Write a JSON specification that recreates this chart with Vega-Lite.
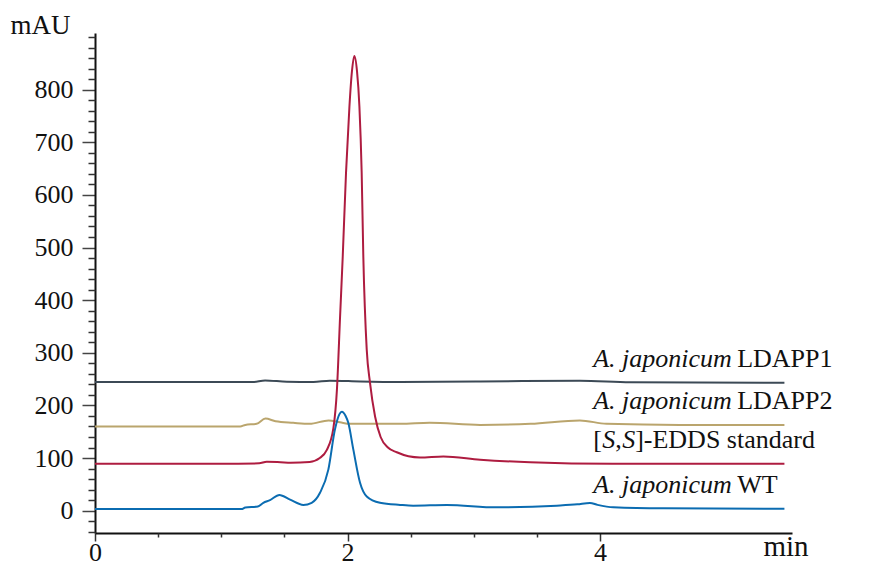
{
  "$schema": "https://vega.github.io/schema/vega-lite/v6.json",
  "width": 697,
  "height": 500,
  "autosize": {"type": "none"},
  "padding": {"left": 95, "top": 33, "right": 79, "bottom": 30},
  "background": "white",
  "config": {"view": {"stroke": null}, "font": "Liberation Serif"},
  "datasets": {
    "chrom": [
      {"series": "LDAPP1", "t": 0, "v": 244.5},
      {"series": "LDAPP1", "t": 0.99, "v": 244.5},
      {"series": "LDAPP1", "t": 1.25, "v": 244.5},
      {"series": "LDAPP1", "t": 1.347, "v": 247.5},
      {"series": "LDAPP1", "t": 1.52, "v": 245},
      {"series": "LDAPP1", "t": 1.73, "v": 244.5},
      {"series": "LDAPP1", "t": 1.86, "v": 247},
      {"series": "LDAPP1", "t": 2.1, "v": 245.5},
      {"series": "LDAPP1", "t": 2.42, "v": 244.5},
      {"series": "LDAPP1", "t": 3.05, "v": 245.5},
      {"series": "LDAPP1", "t": 3.84, "v": 247},
      {"series": "LDAPP1", "t": 4.24, "v": 244},
      {"series": "LDAPP1", "t": 5.46, "v": 243},
      {"series": "LDAPP2", "t": 0, "v": 160},
      {"series": "LDAPP2", "t": 1.15, "v": 160},
      {"series": "LDAPP2", "t": 1.19, "v": 163},
      {"series": "LDAPP2", "t": 1.28, "v": 165},
      {"series": "LDAPP2", "t": 1.35, "v": 175},
      {"series": "LDAPP2", "t": 1.43, "v": 170},
      {"series": "LDAPP2", "t": 1.57, "v": 167},
      {"series": "LDAPP2", "t": 1.7, "v": 165},
      {"series": "LDAPP2", "t": 1.85, "v": 171.5},
      {"series": "LDAPP2", "t": 1.94, "v": 168},
      {"series": "LDAPP2", "t": 2.02, "v": 165},
      {"series": "LDAPP2", "t": 2.42, "v": 165},
      {"series": "LDAPP2", "t": 2.65, "v": 167},
      {"series": "LDAPP2", "t": 3.05, "v": 163},
      {"series": "LDAPP2", "t": 3.45, "v": 165},
      {"series": "LDAPP2", "t": 3.84, "v": 171.5},
      {"series": "LDAPP2", "t": 4.05, "v": 165},
      {"series": "LDAPP2", "t": 4.63, "v": 163},
      {"series": "LDAPP2", "t": 5.46, "v": 163},
      {"series": "EDDS", "t": 0, "v": 89},
      {"series": "EDDS", "t": 0.99, "v": 89},
      {"series": "EDDS", "t": 1.3, "v": 90},
      {"series": "EDDS", "t": 1.36, "v": 93},
      {"series": "EDDS", "t": 1.47, "v": 92},
      {"series": "EDDS", "t": 1.55, "v": 91},
      {"series": "EDDS", "t": 1.7, "v": 92.5},
      {"series": "EDDS", "t": 1.78, "v": 100},
      {"series": "EDDS", "t": 1.835, "v": 115},
      {"series": "EDDS", "t": 1.888, "v": 157},
      {"series": "EDDS", "t": 1.916, "v": 230},
      {"series": "EDDS", "t": 1.941, "v": 369},
      {"series": "EDDS", "t": 1.962, "v": 483},
      {"series": "EDDS", "t": 1.988, "v": 642},
      {"series": "EDDS", "t": 2.015, "v": 768},
      {"series": "EDDS", "t": 2.035, "v": 835},
      {"series": "EDDS", "t": 2.054, "v": 864},
      {"series": "EDDS", "t": 2.075, "v": 835},
      {"series": "EDDS", "t": 2.094, "v": 768},
      {"series": "EDDS", "t": 2.112, "v": 642},
      {"series": "EDDS", "t": 2.125, "v": 483},
      {"series": "EDDS", "t": 2.152, "v": 306},
      {"series": "EDDS", "t": 2.178, "v": 243},
      {"series": "EDDS", "t": 2.218, "v": 179},
      {"series": "EDDS", "t": 2.262, "v": 140},
      {"series": "EDDS", "t": 2.32, "v": 120},
      {"series": "EDDS", "t": 2.39, "v": 111},
      {"series": "EDDS", "t": 2.574, "v": 101},
      {"series": "EDDS", "t": 2.759, "v": 103},
      {"series": "EDDS", "t": 3.05, "v": 97},
      {"series": "EDDS", "t": 3.446, "v": 92},
      {"series": "EDDS", "t": 4.1, "v": 89},
      {"series": "EDDS", "t": 5.46, "v": 89},
      {"series": "WT", "t": 0, "v": 3},
      {"series": "WT", "t": 1.16, "v": 3},
      {"series": "WT", "t": 1.19, "v": 6},
      {"series": "WT", "t": 1.29, "v": 8},
      {"series": "WT", "t": 1.333, "v": 15},
      {"series": "WT", "t": 1.386, "v": 20},
      {"series": "WT", "t": 1.46, "v": 30},
      {"series": "WT", "t": 1.545, "v": 21},
      {"series": "WT", "t": 1.65, "v": 11},
      {"series": "WT", "t": 1.716, "v": 15},
      {"series": "WT", "t": 1.782, "v": 34},
      {"series": "WT", "t": 1.848, "v": 78},
      {"series": "WT", "t": 1.9, "v": 154},
      {"series": "WT", "t": 1.935, "v": 183},
      {"series": "WT", "t": 1.955, "v": 188},
      {"series": "WT", "t": 1.985, "v": 180},
      {"series": "WT", "t": 2.006, "v": 167},
      {"series": "WT", "t": 2.046, "v": 116},
      {"series": "WT", "t": 2.099, "v": 53},
      {"series": "WT", "t": 2.152, "v": 27},
      {"series": "WT", "t": 2.257, "v": 15},
      {"series": "WT", "t": 2.416, "v": 11},
      {"series": "WT", "t": 2.52, "v": 9.5},
      {"series": "WT", "t": 2.786, "v": 10.8},
      {"series": "WT", "t": 3.18, "v": 6.3},
      {"series": "WT", "t": 3.657, "v": 9.5},
      {"series": "WT", "t": 3.82, "v": 12},
      {"series": "WT", "t": 3.92, "v": 14.6},
      {"series": "WT", "t": 3.98, "v": 11},
      {"series": "WT", "t": 4.105, "v": 6.3},
      {"series": "WT", "t": 4.5, "v": 4.4},
      {"series": "WT", "t": 5.46, "v": 3.8}
    ],
    "labels": [
      {"series": "LDAPP1", "level": 243, "species": "A. japonicum", "strain": "LDAPP1"},
      {"series": "LDAPP2", "level": 163, "species": "A. japonicum", "strain": "LDAPP2"},
      {"series": "EDDS", "level": 89, "species": "", "strain": "]-EDDS standard"},
      {"series": "WT", "level": 4, "species": "A. japonicum", "strain": "WT"}
    ]
  },
  "resolve": {"axis": {"x": "independent", "y": "independent"}},
  "layer": [
    {
      "data": {"name": "chrom"},
      "mark": {"type": "line", "strokeWidth": 2, "interpolate": "monotone"},
      "encoding": {
        "x": {
          "field": "t", "type": "quantitative",
          "scale": {"domain": [0, 5.52], "nice": false, "zero": false},
          "axis": {
            "orient": "bottom", "values": [0, 2, 4], "tickSize": 8, "tickWidth": 1.5,
            "tickColor": "#333", "domainColor": "#111", "domainWidth": 2,
            "labelFont": "Liberation Serif", "labelFontSize": 26, "labelColor": "#111",
            "labelPadding": -2, "labelFlush": false, "grid": false,
            "title": "min", "titleFont": "Liberation Serif", "titleFontSize": 29,
            "titleFontWeight": "normal", "titleColor": "#111",
            "titleX": 668, "titleY": 22, "titleAlign": "left", "titleBaseline": "alphabetic"
          }
        },
        "y": {
          "field": "v", "type": "quantitative",
          "scale": {"domain": [-42.4, 907.6], "nice": false, "zero": false},
          "axis": {
            "orient": "left", "values": [0, 100, 200, 300, 400, 500, 600, 700, 800],
            "tickSize": 13, "tickWidth": 1.5, "tickColor": "#444",
            "domainColor": "#111", "domainWidth": 2,
            "labelFont": "Liberation Serif", "labelFontSize": 26, "labelColor": "#111",
            "labelPadding": 9, "labelFlush": false, "grid": false,
            "title": "mAU", "titleFont": "Liberation Serif", "titleFontSize": 27,
            "titleFontWeight": "normal", "titleColor": "#111", "titleAngle": 0,
            "titleX": -85, "titleY": 0, "titleAlign": "left", "titleBaseline": "alphabetic"
          }
        },
        "color": {
          "field": "series", "type": "nominal",
          "scale": {"domain": ["LDAPP1", "LDAPP2", "EDDS", "WT"], "range": ["#3c4a56", "#baa56d", "#ae1c40", "#0b6cb1"]},
          "legend": null
        }
      }
    },
    {
      "data": {"name": "chrom"},
      "mark": {"type": "line", "strokeOpacity": 0},
      "encoding": {
        "x": {
          "field": "t", "type": "quantitative",
          "axis": {
            "orient": "bottom", "values": [0.5, 1, 1.5, 2.5, 3, 3.5], "tickSize": 4, "tickWidth": 1.5,
            "tickColor": "#333", "labels": false, "domain": false, "grid": false, "title": null
          }
        },
        "y": {
          "field": "v", "type": "quantitative",
          "axis": {
            "orient": "left",
            "values": [-40, -20, 20, 40, 60, 80, 120, 140, 160, 180, 220, 240, 260, 280, 320, 340, 360, 380, 420, 440, 460, 480, 520, 540, 560, 580, 620, 640, 660, 680, 720, 740, 760, 780, 820, 840, 860, 880, 900],
            "tickSize": 7, "tickWidth": 1.5, "tickColor": "#333",
            "labels": false, "domain": false, "grid": false, "title": null
          }
        },
        "detail": {"field": "series"}
      }
    },
    {
      "data": {"name": "labels"},
      "transform": [{"filter": "datum.species != ''"}],
      "mark": {"type": "text", "font": "Liberation Serif", "fontSize": 26, "fontStyle": "italic", "align": "left", "baseline": "alphabetic", "dy": -16, "color": "#111"},
      "encoding": {
        "x": {"datum": 3.945, "type": "quantitative", "axis": null},
        "y": {"field": "level", "type": "quantitative", "axis": null},
        "text": {"field": "species"}
      }
    },
    {
      "data": {"name": "labels"},
      "transform": [{"filter": "datum.species != ''"}],
      "mark": {"type": "text", "font": "Liberation Serif", "fontSize": 26, "align": "left", "baseline": "alphabetic", "dy": -16, "dx": 144, "color": "#111"},
      "encoding": {
        "x": {"datum": 3.945, "type": "quantitative", "axis": null},
        "y": {"field": "level", "type": "quantitative", "axis": null},
        "text": {"field": "strain"}
      }
    },
    {
      "data": {"name": "labels"},
      "transform": [{"filter": "datum.series == 'EDDS'"}],
      "mark": {"type": "text", "font": "Liberation Serif", "fontSize": 26, "align": "left", "baseline": "alphabetic", "dy": -16, "color": "#111"},
      "encoding": {
        "x": {"datum": 3.945, "type": "quantitative", "axis": null},
        "y": {"field": "level", "type": "quantitative", "axis": null},
        "text": {"value": "["}
      }
    },
    {
      "data": {"name": "labels"},
      "transform": [{"filter": "datum.series == 'EDDS'"}],
      "mark": {"type": "text", "font": "Liberation Serif", "fontSize": 26, "fontStyle": "italic", "align": "left", "baseline": "alphabetic", "dy": -16, "dx": 9, "color": "#111"},
      "encoding": {
        "x": {"datum": 3.945, "type": "quantitative", "axis": null},
        "y": {"field": "level", "type": "quantitative", "axis": null},
        "text": {"value": "S"}
      }
    },
    {
      "data": {"name": "labels"},
      "transform": [{"filter": "datum.series == 'EDDS'"}],
      "mark": {"type": "text", "font": "Liberation Serif", "fontSize": 26, "align": "left", "baseline": "alphabetic", "dy": -16, "dx": 22, "color": "#111"},
      "encoding": {
        "x": {"datum": 3.945, "type": "quantitative", "axis": null},
        "y": {"field": "level", "type": "quantitative", "axis": null},
        "text": {"value": ","}
      }
    },
    {
      "data": {"name": "labels"},
      "transform": [{"filter": "datum.series == 'EDDS'"}],
      "mark": {"type": "text", "font": "Liberation Serif", "fontSize": 26, "fontStyle": "italic", "align": "left", "baseline": "alphabetic", "dy": -16, "dx": 29, "color": "#111"},
      "encoding": {
        "x": {"datum": 3.945, "type": "quantitative", "axis": null},
        "y": {"field": "level", "type": "quantitative", "axis": null},
        "text": {"value": "S"}
      }
    },
    {
      "data": {"name": "labels"},
      "transform": [{"filter": "datum.series == 'EDDS'"}],
      "mark": {"type": "text", "font": "Liberation Serif", "fontSize": 26, "align": "left", "baseline": "alphabetic", "dy": -16, "dx": 42, "color": "#111"},
      "encoding": {
        "x": {"datum": 3.945, "type": "quantitative", "axis": null},
        "y": {"field": "level", "type": "quantitative", "axis": null},
        "text": {"field": "strain"}
      }
    }
  ]
}
